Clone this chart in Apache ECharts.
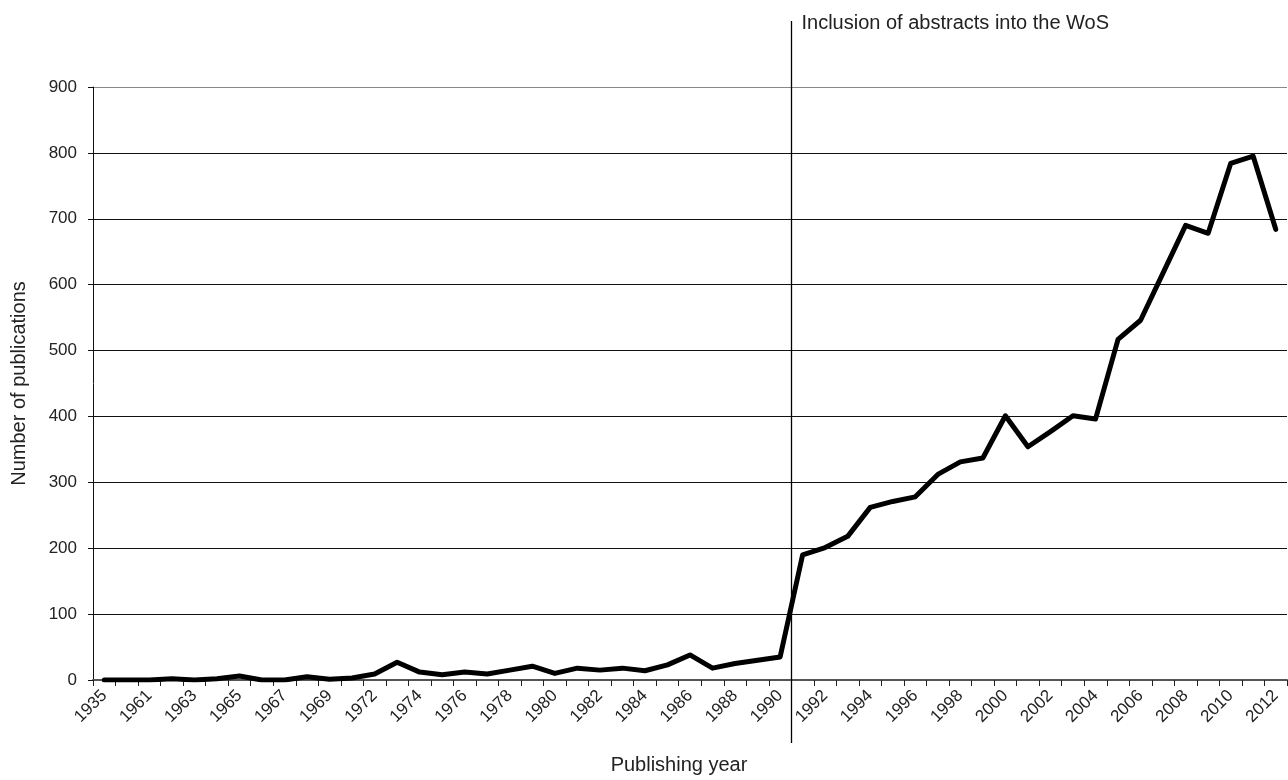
<!DOCTYPE html>
<html>
<head>
<meta charset="utf-8">
<script src="https://cdn.jsdelivr.net/npm/echarts@6/dist/echarts.min.js"></script>
<style>
html,body{margin:0;padding:0;background:#fff;}
#chart{width:1288px;height:780px;}
</style>
</head>
<body>
<div id="chart"></div>
<script>
var years = ['1935','1960','1961','1962','1963','1964','1965','1966','1967','1968','1969','1971',
  '1972','1973','1974','1975','1976','1977','1978','1979','1980','1981','1982','1983','1984','1985',
  '1986','1987','1988','1989','1990','1991','1992','1993','1994','1995','1996','1997','1998','1999',
  '2000','2001','2002','2003','2004','2005','2006','2007','2008','2009','2010','2011','2012'];
var publications = [0,0,0,2,0,2,6,0,0,5,1,3,9,27,12,8,12,9,15,21,10,18,15,18,14,23,38,18,25,30,
  35,190,201,218,262,271,278,312,331,337,401,354,377,401,396,517,546,618,690,678,784,795,684];
var yTicks = [0,100,200,300,400,500,600,700,800,900];
var annotationText = 'Inclusion of abstracts into the WoS';
var annotationAfter = '1990';
var annotationBefore = '1991';

var FONT = '"Liberation Sans", Arial, sans-serif';
var chart = echarts.init(document.getElementById('chart'), null, {renderer:'canvas'});
var gridColors = ['#444','#111','#111','#111','#111','#111','#111','#111','#111','#888'];
chart.setOption({
  animation: false,
  backgroundColor: '#fff',
  grid: {left: 93, right: 1, top: 87, bottom: 97, containLabel: false},
  xAxis: {
    type: 'category',
    data: years,
    boundaryGap: true,
    name: 'Publishing year',
    nameLocation: 'middle',
    nameGap: 75,
    nameTextStyle: {fontFamily: FONT, fontSize: 20, color: '#222', padding: [0, 22, 0, 0]},
    axisLine: {lineStyle: {color: '#555', width: 2}},
    axisTick: {show: true, interval: 0, length: 6, lineStyle: {color: '#222', width: 1}},
    axisLabel: {interval: 1, rotate: 45, margin: 13, fontFamily: FONT, fontSize: 17, color: '#222'},
    splitLine: {show: false}
  },
  yAxis: {
    type: 'value',
    min: 0, max: 900, interval: 100,
    name: 'Number of publications',
    nameLocation: 'middle',
    nameGap: 64,
    nameRotate: 90,
    nameTextStyle: {fontFamily: FONT, fontSize: 20, color: '#222'},
    axisLine: {show: true, lineStyle: {color: '#111', width: 1}},
    axisTick: {show: true, length: 5, lineStyle: {color: '#111'}},
    axisLabel: {margin: 16, fontFamily: FONT, fontSize: 17, color: '#222',
      formatter: function(v){ return yTicks.indexOf(v) >= 0 ? String(v) : ''; }},
    splitLine: {show: true, lineStyle: {color: gridColors, width: 1.2}}
  },
  series: [{
    type: 'line',
    data: publications,
    showSymbol: false,
    symbol: 'none',
    smooth: false,
    lineStyle: {color: '#000', width: 5, join: 'round', cap: 'round'},
    z: 5
  }]
});

var xa = chart.convertToPixel({xAxisIndex: 0}, annotationAfter);
var xb = chart.convertToPixel({xAxisIndex: 0}, annotationBefore);
var lx = Math.round((xa + xb) / 2) + 0.5;
chart.setOption({
  graphic: [
    {type: 'line', shape: {x1: lx, y1: 21, x2: lx, y2: 743}, style: {stroke: '#000', lineWidth: 1.3}, z: 10},
    {type: 'text', x: lx + 10, y: 23, style: {text: annotationText, font: '20px ' + FONT, fill: '#222', verticalAlign: 'middle', align: 'left'}, z: 10}
  ]
});
</script>
</body>
</html>
